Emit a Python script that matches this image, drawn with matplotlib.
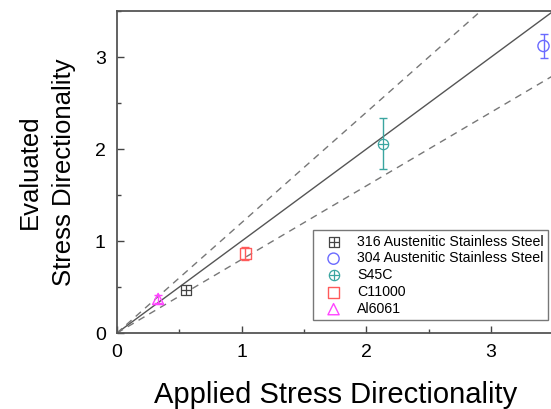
import numpy as np
import matplotlib.pyplot as plt

plt.rcParams['font.family'] = ['Liberation Sans', 'DejaVu Sans']

# data
names = ['316 Austenitic Stainless Steel', '304 Austenitic Stainless Steel',
         'S45C', 'C11000', 'Al6061']
applied = [0.55, 3.42, 2.13, 1.03, 0.33]
evaluated = [0.47, 3.12, 2.06, 0.86, 0.37]
errs = [0.03, 0.13, 0.28, 0.07, 0.04]
colors = ['#444444', '#6a6aff', '#3aa5a0', '#ff5a5a', '#ff44ff']

line_x = [0, 3.5]
slopes = [1.0, 1.2, 0.8]

fig = plt.figure(figsize=(5.51, 4.09), dpi=100)
ax = fig.add_axes([0.2123, 0.1858, 0.7922, 0.7872])

# reference lines: 1:1 and +-20 %
ax.plot(line_x, np.array(line_x) * slopes[0], color='#555555', lw=1.0)
ax.plot(line_x, np.array(line_x) * slopes[1], color='#777777', lw=1.0, ls=(0, (5, 4)))
ax.plot(line_x, np.array(line_x) * slopes[2], color='#777777', lw=1.0, ls=(0, (5, 4)))

handles = []
for i in range(len(names)):
    c = colors[i]
    ax.errorbar(applied[i], evaluated[i], yerr=errs[i], fmt='none', ecolor=c,
                elinewidth=1.0, capsize=3, capthick=1.0)
    if i == 0:
        h1 = ax.scatter(applied[i], evaluated[i], marker='s', s=45, facecolors='white',
                        edgecolors=c, linewidths=0.9, zorder=3)
        h2 = ax.scatter(applied[i], evaluated[i], marker='+', s=45, color=c,
                        linewidths=0.9, zorder=4)
        handles.append((h1, h2))
    elif i == 2:
        h1 = ax.scatter(applied[i], evaluated[i], marker='o', s=55, facecolors='white',
                        edgecolors=c, linewidths=0.9, zorder=3)
        h2 = ax.scatter(applied[i], evaluated[i], marker='+', s=55, color=c,
                        linewidths=0.9, zorder=4)
        handles.append((h1, h2))
    else:
        m = {1: 'o', 3: 's', 4: '^'}[i]
        h = ax.scatter(applied[i], evaluated[i], marker=m, s=65, facecolors='none',
                       edgecolors=c, linewidths=1.0, zorder=3)
        handles.append(h)

ax.set_xlim(0, 3.5)
ax.set_ylim(0, 3.5)
ax.set_xticks([0, 1, 2, 3])
ax.set_yticks([0, 1, 2, 3])
ax.set_xticks([0.5, 1.5, 2.5, 3.5], minor=True)
ax.set_yticks([0.5, 1.5, 2.5, 3.5], minor=True)
ax.tick_params(which='both', direction='in', labelsize=14, color='#444444',
               width=1.0, pad=8)
ax.tick_params(which='major', length=5)
ax.tick_params(which='minor', length=3)
for s in ax.spines.values():
    s.set_color('#555555')
    s.set_linewidth(1.3)

ax.set_xlabel('Applied Stress Directionality', fontsize=21, labelpad=14)
ax.set_ylabel('Evaluated\nStress Directionality', fontsize=18.5, labelpad=14,
              linespacing=1.5)

leg = ax.legend(handles, names, loc='lower right', bbox_to_anchor=(0.987, 0.04),
                borderaxespad=0, fontsize=10.2, frameon=True, fancybox=False,
                handletextpad=0.5, borderpad=0.3, labelspacing=0.2,
                handlelength=2.3)
leg.get_frame().set_edgecolor('#555555')
leg.get_frame().set_linewidth(1.0)

fig.savefig('out.png', dpi=100)
